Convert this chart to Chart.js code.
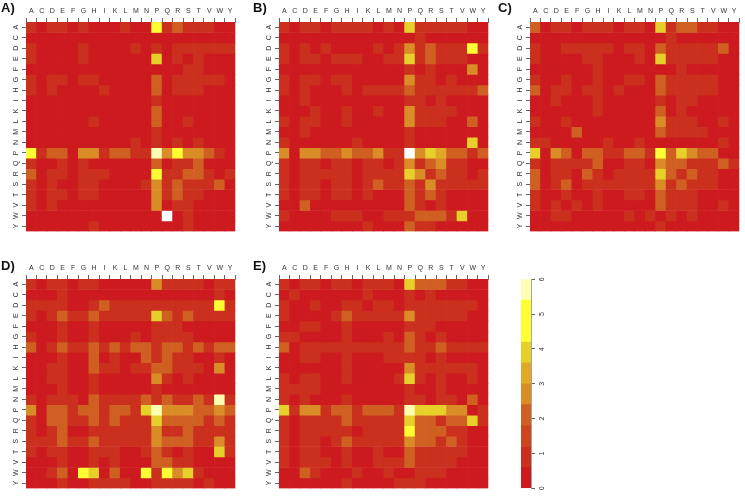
<!DOCTYPE html>
<html>
<head>
<meta charset="utf-8">
<script src="https://cdn.jsdelivr.net/npm/chart.js@4"></script>
<style>
  body { margin: 0; background: #fff; }
  canvas { position: absolute; }
  .tag { position: absolute; font: bold 13px "Liberation Sans", Arial, sans-serif; color: #111; }
</style>
</head>
<body>
<script>
const residues = ['A','C','D','E','F','G','H','I','K','L','M','N','P','Q','R','S','T','V','W','Y'];

// each row is one residue, each character is the colour bin of the cell (W = off the scale)
const panelA = [
  '10110100010071311100','00000000000000000000','10000100001010111111','10000100000060101000','00000000000000011000',
  '10110110000030111110','10100001000030111000','00000000000010000000','00000000000030000000','00000010000030010000',
  '00000000000010000000','00000000001010101000','71330441331194744310','10010100000030113000','30110111000071133101',
  '10100110000141311130','10110110000041311000','10100000000040110000','0000000000000W010000','00000010000000010000'
];
const panelB = [
  '10110111101061111100','00000000000001000000','10101000010141311171','10110111001161311100','00000000000010100040',
  '10110110000041101000','10100010111131111113','00100000000011010000','00010010010041111000','10110010000041110030',
  '00100000000010000000','10000001000010000060','404433433411W4653313','10110110110141341100','10111110111164131101',
  '10110110131131411111','10110110100031310000','00300000000031010000','10000111001113331600','00000000100031100000'
];
const panelC = [
  '30110111011061331100','00000000000001000000','10011111011031111130','10000110001061111100','00000010000000100000',
  '10010010011031111100','30110110100031111100','00100010000010110000','00000010000030100000','10010000000041110010',
  '00003000000031111000','11000001001000000010','60430331133173643300','10111130011043311131','30110310111163131100',
  '30130111111141311100','10010010011031110000','10101010000031110010','00110000010101010000','00000000000010000000'
];
const panelD = [
  '10110110000041111011','00010000000000000010','11110013111111111171','10131131111163131111','00010010000011100000',
  '10010010001011110000','30131131313313313133','00010030100313110010','00110031101133111040','00110010000041010000',
  '00010010000010000000','10111031111313113191','40331331331694443343','10331131311163333131','10130011111141131111',
  '11131131111143331141','10110011100131010061','00010010100033110000','00130760300717461000','00010011110011110100'
];
const panelE = [
  '10110110111063331100','01000000100010100000','10010011011011111110','10000131111141111100','00110010000011100000',
  '11000010001031010000','30111111111131131111','00110010001111010000','00000010000041111110','10110010000161010010',
  '11110000000010010000','10100010000011011030','61441331333196664401','10111131111163313361','10111110111173331100',
  '10110131111143313100','10110010010031111100','10111010011131111000','00310001001001110000','00000010000111000000'
];

const binColors = ['#cc1a1e','#cb2f1d','#ce461f','#d06022','#da8c27','#e2a828','#e8d02a','#ffff33','#ffff33','#ffffb4'];
const scaleTicks = [0, 1, 2, 3, 4, 5, 6];
const binWidth = 0.6;

const AXIS_GREY = '#666';
const tickFont = { family: 'Liberation Sans', size: 7 };

function cellColor(ch) {
  return ch === 'W' ? '#ffffff' : binColors[Number(ch)];
}

function makeCanvas(left, top, width, height) {
  const c = document.createElement('canvas');
  c.width = width;
  c.height = height;
  c.style.left = left + 'px';
  c.style.top = top + 'px';
  document.body.appendChild(c);
  return c;
}

function addTag(text, left, top) {
  const d = document.createElement('div');
  d.className = 'tag';
  d.textContent = text;
  d.style.left = left + 'px';
  d.style.top = top + 'px';
  document.body.appendChild(d);
}

// labels at the ends of an axis should not push the plot area in
function noEndPadding(s) {
  s.paddingLeft = s.paddingRight = s.paddingTop = s.paddingBottom = 0;
}

function heatmap(rows, plotLeft, plotTop) {
  const pad = 26, head = 22;
  const c = makeCanvas(plotLeft - pad, plotTop - head, pad + 209.4 + 2 | 0, head + 209.4 + 2 | 0);
  new Chart(c, {
    type: 'bar',
    data: {
      labels: residues,
      datasets: rows.map(row => ({
        data: residues.map(() => 1),
        backgroundColor: row.split('').map(cellColor),
        stack: 'cells',
        yAxisID: 'y'
      }))
    },
    options: {
      responsive: false,
      animation: false,
      barPercentage: 1,
      categoryPercentage: 1,
      layout: { padding: { right: c.width - pad - 209.4, bottom: c.height - head - 209.4 } },
      plugins: { legend: { display: false }, tooltip: { enabled: false } },
      scales: {
        x: {
          position: 'top',
          stacked: true,
          grid: { drawOnChartArea: false, tickLength: 4, color: AXIS_GREY },
          border: { color: AXIS_GREY, width: 0.6 },
          ticks: { font: tickFont, color: '#333', padding: 3, maxRotation: 0, autoSkip: false },
          afterFit: s => { s.height = head; noEndPadding(s); }
        },
        y: { display: false, stacked: true, reverse: true, min: 0, max: residues.length },
        rowNames: {
          type: 'category',
          labels: residues,
          position: 'left',
          offset: true,
          grid: { drawOnChartArea: false, tickLength: 4, color: AXIS_GREY },
          border: { display: false },
          ticks: { font: tickFont, color: '#333', padding: 3, minRotation: 90, maxRotation: 90, crossAlign: 'center', autoSkip: false },
          afterFit: s => { s.width = pad; noEndPadding(s); }
        }
      }
    }
  });
}

heatmap(panelA, 26, 22.3);
heatmap(panelB, 279.3, 22.3);
heatmap(panelC, 529.6, 22.3);
heatmap(panelD, 26, 279.2);
heatmap(panelE, 279.3, 279.2);

addTag('A)', 1, 0);
addTag('B)', 253, 0);
addTag('C)', 498, 0);
addTag('D)', 1, 258);
addTag('E)', 253, 258);

// colour key
const keyCanvas = makeCanvas(521, 277, 30, 214);
new Chart(keyCanvas, {
  type: 'bar',
  data: {
    labels: ['key'],
    datasets: binColors.map(color => ({ data: [binWidth], backgroundColor: color }))
  },
  options: {
    responsive: false,
    animation: false,
    barPercentage: 1,
    categoryPercentage: 1,
    layout: { padding: { top: 2.3, bottom: 2.7 } },
    plugins: { legend: { display: false }, tooltip: { enabled: false } },
    scales: {
      x: { display: false, stacked: true },
      y: {
        position: 'right',
        stacked: true,
        min: 0,
        max: 6,
        afterBuildTicks: s => { s.ticks = scaleTicks.map(v => ({ value: v })); },
        grid: { drawOnChartArea: false, tickLength: 4, color: AXIS_GREY },
        border: { color: AXIS_GREY, width: 0.6 },
        ticks: { font: tickFont, color: '#333', padding: 5, minRotation: 90, maxRotation: 90, crossAlign: 'center' },
        afterFit: s => { s.width = 20; noEndPadding(s); }
      }
    }
  }
});
</script>
</body>
</html>
